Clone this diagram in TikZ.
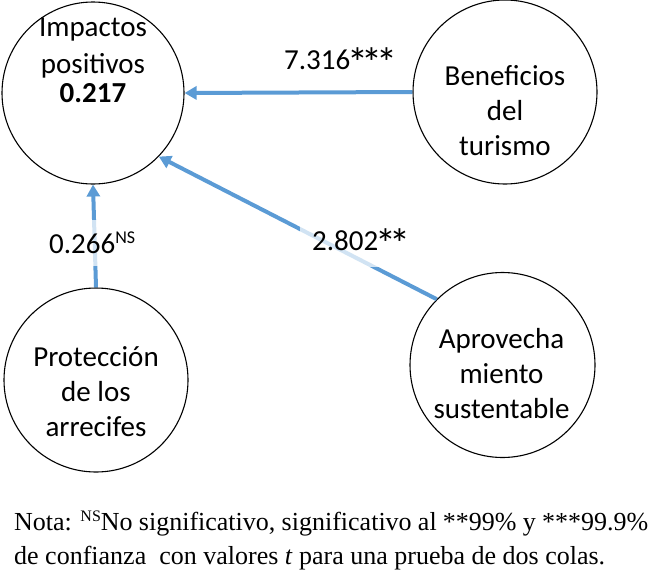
\documentclass[tikz,border=0pt]{standalone}
\usepackage{fontspec}
\setmainfont{Carlito}
\newfontfamily\notefont{Liberation Serif}
\usetikzlibrary{arrows.meta}
\definecolor{arrowblue}{RGB}{91,155,213}
\newcommand\bigst{\makebox[14.5pt]{\fontsize{42}{42}\selectfont\raisebox{-8pt}{*}}}
\begin{document}
\begin{tikzpicture}[x=1pt,y=-1pt,
  circ/.style={draw=black,line width=1.1pt,circle,minimum size=184pt,inner sep=0pt},
  ctext/.style={align=center,anchor=base,font=\fontsize{29}{35}\selectfont,inner sep=0pt},
  conn/.style={draw=arrowblue,line width=4pt,-{Triangle[length=12pt,width=13pt]}},
  lbl/.style={fill=white,fill opacity=0.72,text opacity=1,anchor=west,align=left,
    inner xsep=12pt,inner ysep=0pt,minimum height=46pt,font=\fontsize{29}{35}\selectfont},
  note/.style={anchor=base west,inner sep=0pt,font=\notefont\fontsize{26}{30}\selectfont}]
\useasboundingbox (0,0) rectangle (650,570);
% circles
\node[circ,minimum size=182pt] (imp) at (93,93) {};
\node[circ] (ben) at (505,92) {};
\node[circ] (pro) at (96,380) {};
\node[circ,minimum size=185pt] (apr) at (502.5,365) {};
% texts
\node[ctext] (impt) at (93,102) {Impactos\\[1.5pt]positivos\\[-6pt]\textbf{0.217}};
\node[ctext] (bent) at (505,155) {Beneficios\\del\\turismo};
\node[ctext] (prot) at (96,436) {Protección\\de los\\arrecifes};
\node[ctext] (aprt) at (501.5,418) {Aprovecha\\miento\\sustentable};
% connectors
\draw[conn] (ben.west) -- (imp.east);
\draw[conn] (pro.north) -- (imp.south);
\draw[conn] (apr.135) -- (imp.-44);
% labels
\node[lbl,text width=116pt] (l1) at (272,63) {7.316\bigst\bigst\bigst};
\node[lbl,text width=106pt] (l2) at (37,243) {0.266\raisebox{10pt}{\fontsize{18}{18}\selectfont NS}};
\node[lbl,text width=113pt] (l3) at (300,244) {2.802\bigst\bigst};
% note
\node[note] (n1) at (14,530) {\makebox[634pt][s]{Nota: \raisebox{9pt}{\fontsize{16}{16}\selectfont NS}No significativo, significativo al **99\% y ***99.9\%}};
\node[note] (n2) at (14,564.5) {de confianza\ \ con valores \textit{t} para una prueba de dos colas.};
\end{tikzpicture}
\end{document}
